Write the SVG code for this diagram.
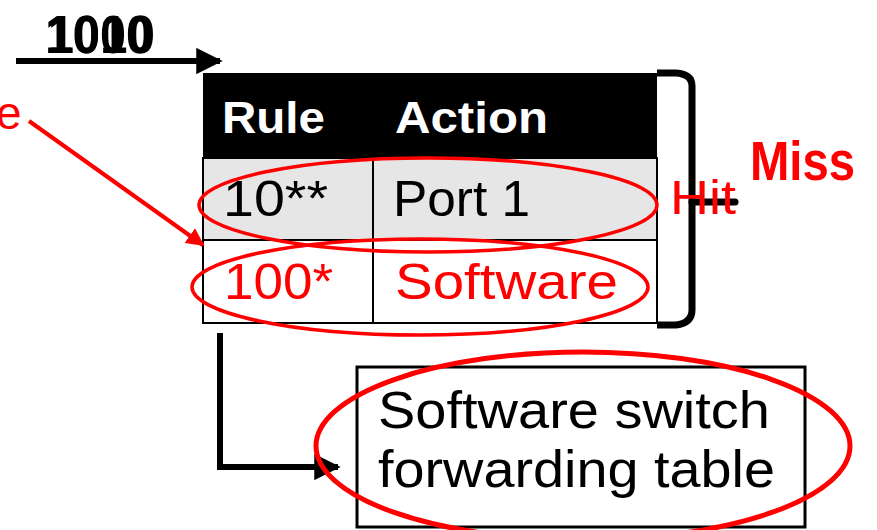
<svg xmlns="http://www.w3.org/2000/svg" width="877" height="530" viewBox="0 0 877 530">
<style>
.t{font-family:"Liberation Sans","DejaVu Sans",sans-serif}
.blk{fill:#000}
.red{fill:#ff0000}
.cell{stroke:#000;stroke-width:2}
.rl{fill:none;stroke:#ff0000}
</style>
<defs>
<marker id="ah" viewBox="0 0 10 10" refX="9" refY="5" markerWidth="4.4" markerHeight="4.4" orient="auto" markerUnits="strokeWidth"><path d="M0,0 L10,5 L0,10 z" fill="#000"/></marker>
<marker id="ahr" viewBox="0 0 10 10" refX="9" refY="5" markerWidth="4.5" markerHeight="4.5" orient="auto" markerUnits="strokeWidth"><path d="M0,0 L10,5 L0,10 z" fill="#ff0000"/></marker>
</defs>
<g id="packet">
<text class="t blk" x="45" y="53" font-size="54" font-weight="bold" textLength="110" lengthAdjust="spacingAndGlyphs">1010</text>
<text class="t blk" x="48" y="53" font-size="54" font-weight="bold" textLength="104" lengthAdjust="spacingAndGlyphs">1000</text>
</g>
<g id="table">
<rect x="203" y="73" width="454" height="85" fill="#000"/>
<rect class="cell" x="203" y="158" width="454" height="82" fill="#e6e6e6"/>
<rect class="cell" x="203" y="240" width="454" height="83" fill="#fff"/>
<line class="cell" x1="373" y1="158" x2="373" y2="323"/>
<text class="t" x="222" y="133" font-size="44" font-weight="bold" fill="#fff" textLength="103" lengthAdjust="spacingAndGlyphs">Rule</text>
<text class="t" x="395" y="133" font-size="44" font-weight="bold" fill="#fff" textLength="153" lengthAdjust="spacingAndGlyphs">Action</text>
<text class="t blk" x="223" y="216" font-size="50" textLength="105" lengthAdjust="spacingAndGlyphs">10**</text>
<text class="t blk" x="393" y="216" font-size="50" textLength="137" lengthAdjust="spacingAndGlyphs">Port 1</text>
<text class="t red" x="224" y="299" font-size="50" textLength="109" lengthAdjust="spacingAndGlyphs">100*</text>
<text class="t red" x="395" y="299" font-size="50" textLength="223" lengthAdjust="spacingAndGlyphs">Software</text>
</g>
<g id="bracket">
<path d="M657,73 L676,73 Q692,74 692,86 L692,310 Q692,323 676,325 L657,325" fill="none" stroke="#000" stroke-width="7"/>
<line x1="692" y1="202" x2="735" y2="202" stroke="#000" stroke-width="7" stroke-linecap="round"/>
</g>
<g id="labels">
<text class="t red" x="-4" y="129" font-size="46">e</text>
<text class="t red" x="670" y="214" font-size="48" textLength="66" lengthAdjust="spacingAndGlyphs">Hit</text>
<text class="t red" x="750" y="180" font-size="56" font-weight="bold" textLength="105" lengthAdjust="spacingAndGlyphs">Miss</text>
</g>
<g id="software-switch">
<rect x="357" y="367" width="448" height="160" fill="#fff" stroke="#000" stroke-width="3"/>
<text class="t blk" x="378" y="428" font-size="52" textLength="392" lengthAdjust="spacingAndGlyphs">Software switch</text>
<text class="t blk" x="378" y="487" font-size="52" textLength="397" lengthAdjust="spacingAndGlyphs">forwarding table</text>
</g>
<g id="connectors">
<line x1="16" y1="61" x2="220" y2="61" stroke="#000" stroke-width="6" marker-end="url(#ah)"/>
<polyline points="220,333 220,467 338,467" fill="none" stroke="#000" stroke-width="6" marker-end="url(#ah)"/>
<line x1="29" y1="121" x2="203" y2="245" stroke="#ff0000" stroke-width="4" marker-end="url(#ahr)"/>
</g>
<g id="highlights">
<ellipse class="rl" cx="428" cy="205" rx="229" ry="47" stroke-width="3.5"/>
<ellipse class="rl" cx="420" cy="287" rx="228" ry="48" stroke-width="3.5"/>
<ellipse class="rl" cx="583" cy="446" rx="267" ry="94" stroke-width="5"/>
</g>
</svg>
